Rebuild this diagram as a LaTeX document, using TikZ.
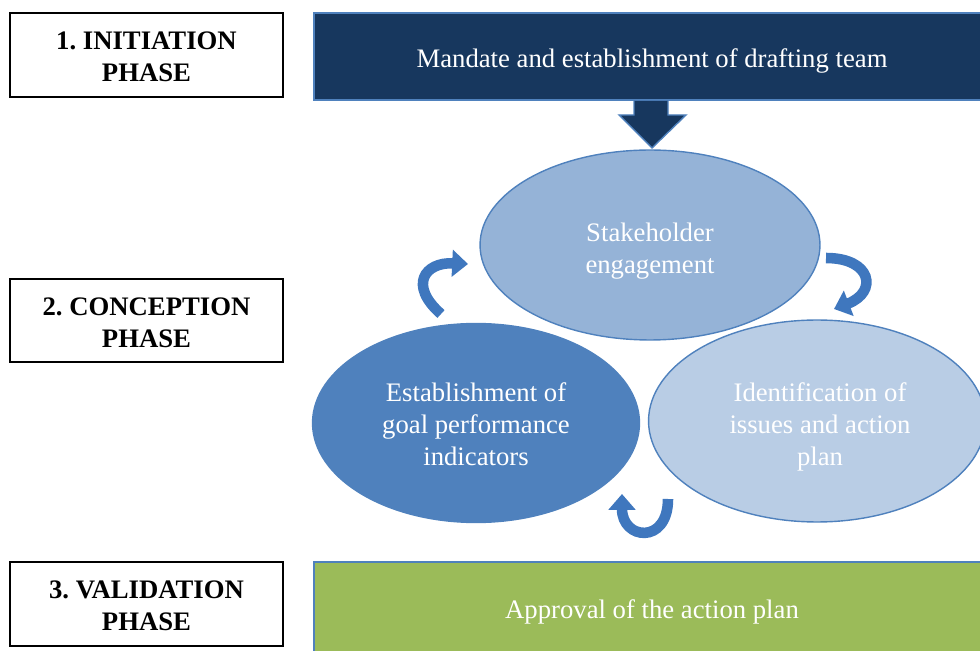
\documentclass[tikz,border=0pt]{standalone}
\usepackage{fontspec}
\setmainfont{Liberation Serif}
\usetikzlibrary{positioning}
\usetikzlibrary{arrows.meta}
\usetikzlibrary{shapes.geometric}
\frenchspacing

\definecolor{navy}{HTML}{17375E}
\definecolor{edgeblue}{HTML}{4F81BD}
\definecolor{topfill}{HTML}{95B3D7}
\definecolor{leftfill}{HTML}{4F81BD}
\definecolor{rightfill}{HTML}{B9CDE5}
\definecolor{greenfill}{HTML}{9BBB59}
\definecolor{turnblue}{HTML}{3F77BE}

\tikzset{
  phase/.style={draw=black, line width=0.6pt, fill=white, minimum width=5.46cm, minimum height=1.68cm,
    align=center, font=\fontsize{15.2}{18.1}\selectfont\bfseries},
  bar/.style={draw=edgeblue, line width=1.2pt, minimum width=13.6cm, anchor=west},
  bubble/.style={ellipse, draw=edgeblue, line width=0.8pt, text=white, align=center,
    inner sep=0pt, font=\fontsize{15.2}{18.1}\selectfont},
  turn/.style={draw=turnblue, line width=6pt, -{Triangle[length=9pt,width=15pt]}}
}

\begin{document}
\begin{tikzpicture}[x=0.02cm,y=-0.02cm]
          \useasboundingbox (0,0) rectangle (980,651);
          % phases
          \node[phase] (initiation) at (146.5,55) {};
          \node[phase, minimum height=1.66cm] (conception) at (146.5,320.5) {};
          \node[phase] (validation) at (146.5,604) {};
          \node[phase, draw=none, fill=none] at (146.5,57) {1. INITIATION\\PHASE};
          \node[phase, draw=none, fill=none] at (146.5,322.5) {2. CONCEPTION\\PHASE};
          \node[phase, draw=none, fill=none] at (146.5,606) {3. VALIDATION\\PHASE};
          % bars
          \node[bar, fill=navy, minimum height=1.74cm] (mandate) at (313,56.5) {};
          \node[bubble, draw=none] (mandatetext) at (652,61) {Mandate and establishment of drafting team};
          \node[bar, fill=greenfill, minimum height=1.88cm] (approval) at (313,609) {};
          \node[bubble, draw=none] (approvaltext) at (652,612) {Approval of the action plan};
          % ellipses
          \node[bubble, fill=topfill, minimum width=6.8cm, minimum height=3.8cm] (stake) at (650,245) {};
          \node[bubble, fill=leftfill, minimum width=6.54cm, minimum height=3.98cm] (goal) at (476,423) {};
          \node[bubble, fill=rightfill, minimum width=6.74cm, minimum height=4.04cm] (issues) at (817,421) {};
          \node[bubble, draw=none] (staketext) at (650,251) {Stakeholder\\engagement};
          \node[bubble, draw=none] (goaltext) at (476,424) {Establishment of\\goal performance\\indicators};
          \node[bubble, draw=none] (issuestext) at (820,427) {Identification of\\issues and action\\plan};
          % down arrow
          \coordinate (tip) at (652,148);
          \filldraw[fill=navy, draw=edgeblue, line width=0.8pt]
            (634,101) -- (634,115) -- (619,115) -- (tip) -- (686,115) -- (668,115) -- (668,101);
          % turning arrows
          \coordinate (l1) at (441,314);
          \coordinate (l2) at (468,264);
          \coordinate (r1) at (826,258);
          \coordinate (r2) at (834,309);
          \coordinate (b1) at (668,499);
          \coordinate (b2) at (622,494);
          \draw[turn] (l1) .. controls (408,285) and (425,262) .. (l2);
          \draw[turn] (r1) .. controls (872,258) and (878,292) .. (r2);
          \draw[turn] (b1) .. controls (668,545) and (622,540) .. (b2);
        \end{tikzpicture}
\end{document}
